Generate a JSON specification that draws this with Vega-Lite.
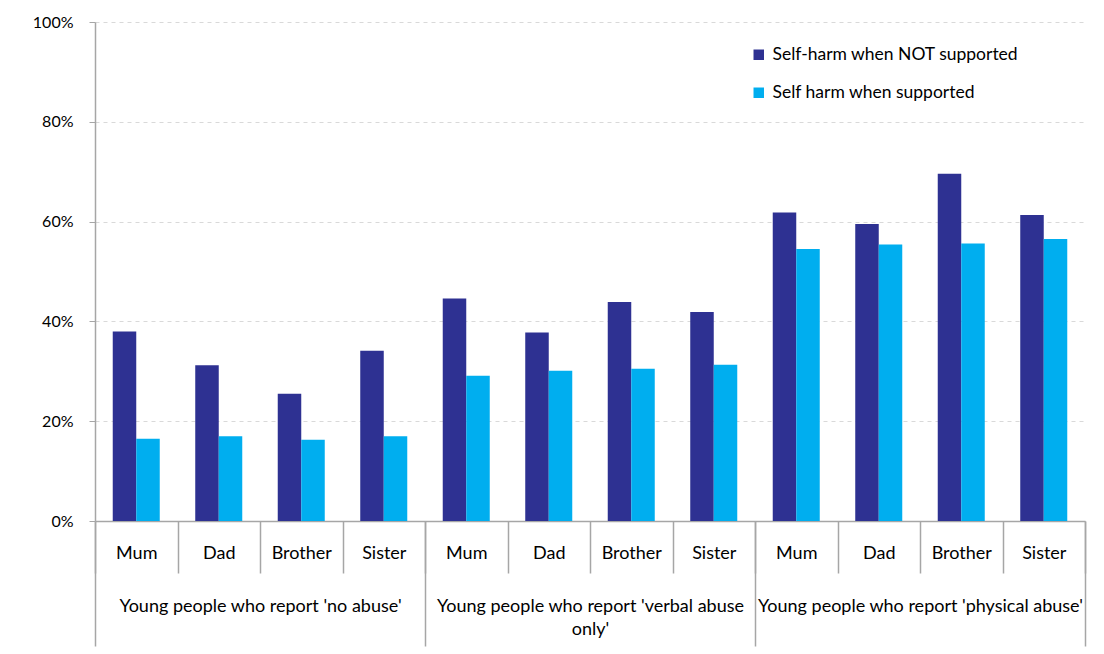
{
  "$schema": "https://vega.github.io/schema/vega-lite/v6.json",
  "width": 990,
  "height": 499,
  "autosize": {"type": "none"},
  "padding": {"left": 95, "top": 22, "right": 19, "bottom": 133},
  "background": "white",
  "config": {
    "font": "Lato",
    "view": {"stroke": null},
    "axis": {"labelFont": "Lato", "labelColor": "#000000", "labelFontSize": 16}
  },
  "data": {
    "values": [
      {"cat": "A|Mum", "group": "Young people who report 'no abuse'", "series": "Self-harm when NOT supported", "value": 38.0},
      {"cat": "A|Mum", "group": "Young people who report 'no abuse'", "series": "Self harm when supported", "value": 16.5},
      {"cat": "A|Dad", "group": "Young people who report 'no abuse'", "series": "Self-harm when NOT supported", "value": 31.2},
      {"cat": "A|Dad", "group": "Young people who report 'no abuse'", "series": "Self harm when supported", "value": 17.0},
      {"cat": "A|Brother", "group": "Young people who report 'no abuse'", "series": "Self-harm when NOT supported", "value": 25.5},
      {"cat": "A|Brother", "group": "Young people who report 'no abuse'", "series": "Self harm when supported", "value": 16.3},
      {"cat": "A|Sister", "group": "Young people who report 'no abuse'", "series": "Self-harm when NOT supported", "value": 34.1},
      {"cat": "A|Sister", "group": "Young people who report 'no abuse'", "series": "Self harm when supported", "value": 17.0},
      {"cat": "B|Mum", "group": "Young people who report 'verbal abuse only'", "series": "Self-harm when NOT supported", "value": 44.6},
      {"cat": "B|Mum", "group": "Young people who report 'verbal abuse only'", "series": "Self harm when supported", "value": 29.1},
      {"cat": "B|Dad", "group": "Young people who report 'verbal abuse only'", "series": "Self-harm when NOT supported", "value": 37.8},
      {"cat": "B|Dad", "group": "Young people who report 'verbal abuse only'", "series": "Self harm when supported", "value": 30.1},
      {"cat": "B|Brother", "group": "Young people who report 'verbal abuse only'", "series": "Self-harm when NOT supported", "value": 43.9},
      {"cat": "B|Brother", "group": "Young people who report 'verbal abuse only'", "series": "Self harm when supported", "value": 30.5},
      {"cat": "B|Sister", "group": "Young people who report 'verbal abuse only'", "series": "Self-harm when NOT supported", "value": 41.9},
      {"cat": "B|Sister", "group": "Young people who report 'verbal abuse only'", "series": "Self harm when supported", "value": 31.3},
      {"cat": "C|Mum", "group": "Young people who report 'physical abuse'", "series": "Self-harm when NOT supported", "value": 61.8},
      {"cat": "C|Mum", "group": "Young people who report 'physical abuse'", "series": "Self harm when supported", "value": 54.5},
      {"cat": "C|Dad", "group": "Young people who report 'physical abuse'", "series": "Self-harm when NOT supported", "value": 59.5},
      {"cat": "C|Dad", "group": "Young people who report 'physical abuse'", "series": "Self harm when supported", "value": 55.4},
      {"cat": "C|Brother", "group": "Young people who report 'physical abuse'", "series": "Self-harm when NOT supported", "value": 69.6},
      {"cat": "C|Brother", "group": "Young people who report 'physical abuse'", "series": "Self harm when supported", "value": 55.6},
      {"cat": "C|Sister", "group": "Young people who report 'physical abuse'", "series": "Self-harm when NOT supported", "value": 61.3},
      {"cat": "C|Sister", "group": "Young people who report 'physical abuse'", "series": "Self harm when supported", "value": 56.5}
    ]
  },
  "layer": [
    {
      "mark": {"type": "bar"},
      "encoding": {
        "x": {
          "field": "cat", "type": "nominal", "sort": null,
          "scale": {"paddingInner": 0, "paddingOuter": 0},
          "axis": {
            "title": null, "labelAngle": 0,
            "labelExpr": "split(datum.label, '|')[1]",
            "labelFontSize": 18,
            "tickBand": "extent", "tickSize": 52, "labelPadding": -29,
            "domainColor": "#A6A6A6", "tickColor": "#A6A6A6", "domainWidth": 1.5, "tickWidth": 1.5
          }
        },
        "xOffset": {
          "field": "series", "type": "nominal", "sort": null,
          "scale": {"paddingInner": 0, "paddingOuter": 0.755}
        },
        "y": {
          "field": "value", "type": "quantitative",
          "scale": {"domain": [0, 100]},
          "axis": {
            "title": null, "values": [0, 20, 40, 60, 80, 100],
            "labelExpr": "datum.value + '%'",
            "gridDash": [4, 4], "gridColor": "#D9D9D9",
            "domainColor": "#A6A6A6", "domainWidth": 1.5, "tickColor": "#A6A6A6",
            "tickSize": 6, "labelPadding": 16
          }
        },
        "color": {
          "field": "series", "type": "nominal", "sort": null,
          "scale": {"range": ["#2E3192", "#00AEEF"]},
          "legend": {
            "title": null, "orient": "none", "legendX": 655, "legendY": 24,
            "symbolType": "square", "symbolSize": 110, "symbolStrokeWidth": 0,
            "labelFontSize": 17.5, "labelFont": "Lato", "labelColor": "#000000",
            "rowPadding": 19, "labelOffset": 5, "labelLimit": 400
          }
        }
      }
    },
    {
      "mark": {"type": "point", "opacity": 0},
      "encoding": {
        "x": {
          "field": "group", "type": "nominal", "sort": null,
          "scale": {"paddingInner": 0, "paddingOuter": 0},
          "axis": {
            "orient": "bottom", "title": null, "labelAngle": 0,
            "labelExpr": "datum.label == \"Young people who report 'verbal abuse only'\" ? [\"Young people who report 'verbal abuse\", \"only'\"] : datum.label",
            "labelFontSize": 18,
            "tickBand": "extent", "tickSize": 125, "labelPadding": -49,
            "labelLimit": 400, "labelLineHeight": 23,
            "domain": false, "tickColor": "#A6A6A6", "tickWidth": 1.5
          }
        }
      }
    }
  ],
  "resolve": {"scale": {"x": "independent"}, "axis": {"x": "independent"}}
}
